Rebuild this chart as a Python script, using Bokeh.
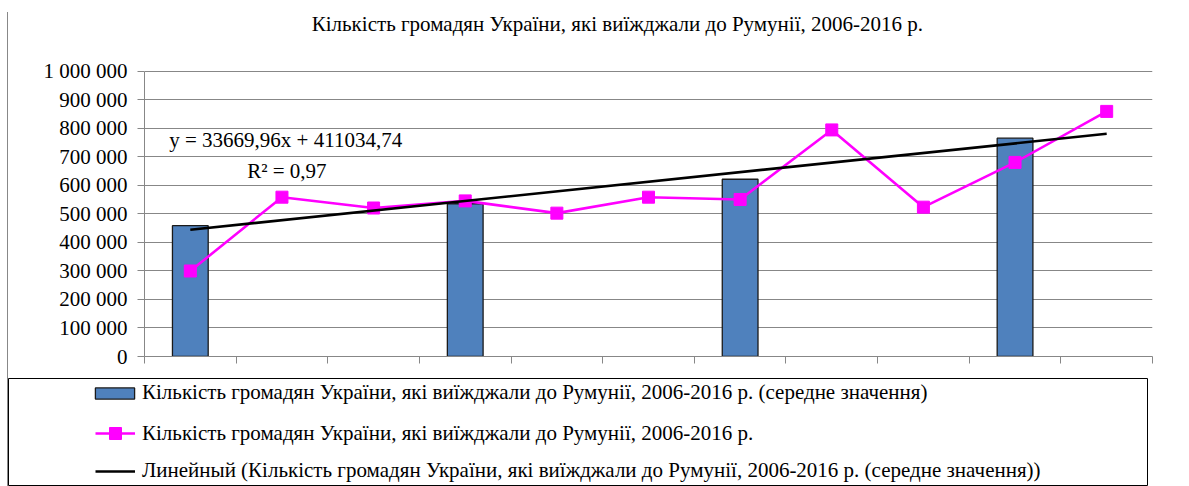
from bokeh.plotting import figure
from bokeh.models import Range1d, FixedTicker, Label, Legend, LegendItem, Spacer
from bokeh.layouts import column, row
from bokeh.embed import file_html
from bokeh.resources import INLINE

# ---------------- data ----------------
years = ["2006", "2007", "2008", "2009", "2010", "2011", "2012", "2013", "2014", "2015", "2016"]
trips = [300000, 559000, 521000, 546000, 503000, 559000, 551000, 795000, 524000, 681000, 860000]
avg_years = ["2006", "2009", "2012", "2015"]
avg_values = [459000, 536000, 622000, 766000]
trend_slope = 33669.96
trend_intercept = 411034.74
trend_eq_text = "y = 33669,96x + 411034,74"
r2_text = "R² = 0,97"
y_ticks = [0, 100000, 200000, 300000, 400000, 500000, 600000, 700000, 800000, 900000, 1000000]
y_tick_labels = ["0", "100 000", "200 000", "300 000", "400 000", "500 000",
                 "600 000", "700 000", "800 000", "900 000", "1 000 000"]
title_text = "Кількість громадян України, які виїжджали до Румунії, 2006-2016 р."
legend_labels = [
    "Кількість громадян України, які виїжджали до Румунії, 2006-2016 р. (середне значення)",
    "Кількість громадян України, які виїжджали до Румунії, 2006-2016 р.",
    "Линейный (Кількість громадян України, які виїжджали до Румунії, 2006-2016 р. (середне значення))",
]

FONT = "Liberation Serif"
FS = "21px"
GRID = "#878787"
BLUE = "#4F81BD"
MAGENTA = "#FF00FF"

idx = list(range(len(years)))
bar_x = [years.index(y) for y in avg_years]
trend_x = [idx[0], idx[-1]]
trend_y = [trend_slope * (i + 1) + trend_intercept for i in trend_x]

# ---------------- chart ----------------
# the frame reaches up to the title; gridlines/axis stop at 1 000 000
p = figure(width=1181, height=366, title=None,
           x_range=Range1d(-0.5, len(years) - 0.5), y_range=Range1d(0, 1207000),
           output_backend="svg", toolbar_location=None,
           min_border_left=136, min_border_right=37, min_border_top=0, min_border_bottom=22)
p.frame_align = False
p.outline_line_color = None
p.background_fill_color = "white"
p.border_fill_color = "white"
p.xgrid.visible = False
p.ygrid.ticker = FixedTicker(ticks=y_ticks)
p.ygrid.grid_line_color = GRID
p.ygrid.grid_line_width = 1

p.yaxis.ticker = FixedTicker(ticks=y_ticks)
p.yaxis.bounds = (y_ticks[0], y_ticks[-1])
p.yaxis.major_label_overrides = {t: l for t, l in zip(y_ticks, y_tick_labels)}
p.yaxis.axis_line_color = GRID
p.yaxis.major_tick_line_color = GRID
p.yaxis.major_tick_out = 7
p.yaxis.major_tick_in = 0
p.yaxis.minor_tick_line_color = None
p.yaxis.major_label_text_font = FONT
p.yaxis.major_label_text_font_size = FS
p.yaxis.major_label_text_color = "black"
p.yaxis.major_label_standoff = 10

p.xaxis.ticker = FixedTicker(ticks=[i - 0.5 for i in range(len(years) + 1)])
p.xaxis.major_label_overrides = {i - 0.5: "" for i in range(len(years) + 1)}
p.xaxis.axis_line_color = GRID
p.xaxis.major_tick_line_color = GRID
p.xaxis.major_tick_out = 7
p.xaxis.major_tick_in = 0
p.xaxis.minor_tick_line_color = None
p.xaxis.major_label_text_font_size = "1px"

p.vbar(x=bar_x, top=avg_values, width=0.39, fill_color=BLUE,
       line_color="#1a1a1a", line_width=1.3)
p.line(idx, trips, line_color=MAGENTA, line_width=2.6)
p.scatter(idx, trips, marker="square", size=12, fill_color=MAGENTA, line_color=MAGENTA)
p.line(trend_x, trend_y, line_color="black", line_width=2.6)

p.add_layout(Label(x=4.66, y=1164900, text=title_text, text_align="center",
                   text_baseline="middle", text_font=FONT, text_font_size=FS,
                   text_color="black"))
p.add_layout(Label(x=-0.23, y=757900, text=trend_eq_text, text_align="left",
                   text_baseline="middle", text_font=FONT, text_font_size=FS,
                   text_color="black"))
p.add_layout(Label(x=0.62, y=652600, text=r2_text, text_align="left",
                   text_baseline="middle", text_font=FONT, text_font_size=FS,
                   text_color="black"))

# ---------------- legend panel ----------------
q = figure(width=1140, height=108, x_range=Range1d(0, 1), y_range=Range1d(0, 1),
           x_axis_type=None, y_axis_type=None, output_backend="svg",
           toolbar_location=None, min_border=0)
q.frame_align = False
q.grid.visible = False
q.outline_line_color = "black"
q.outline_line_width = 1
q.background_fill_color = "white"
q.border_fill_color = "white"

# proxies for the legend (their points lie outside the visible range)
off = [-10]
r_bar = q.vbar(x=off, top=off, width=0.5, fill_color=BLUE, line_color="#1a1a1a", line_width=1.3)
r_line = q.line(x=off, y=off, line_color=MAGENTA, line_width=2.6)
r_mark = q.scatter(x=off, y=off, marker="square", size=12, fill_color=MAGENTA, line_color=MAGENTA)
r_trend = q.line(x=off, y=off, line_color="black", line_width=2.6)


def make_legend(label, renderers, loc, gw, gh, lh, standoff):
    return Legend(items=[LegendItem(label=label, renderers=renderers)],
                  location=loc, orientation="vertical",
                  glyph_width=gw, glyph_height=gh, label_height=lh, label_width=10,
                  label_standoff=standoff, padding=0, margin=0, spacing=0,
                  border_line_color=None, background_fill_alpha=0,
                  label_text_font=FONT, label_text_font_size=FS,
                  label_text_color="black")


q.add_layout(make_legend(legend_labels[0], [r_bar], (82, 81), 49, 14, 22, 3))
q.add_layout(make_legend(legend_labels[1], [r_line, r_mark], (87, 38), 40, 30, 30, 7))
q.add_layout(make_legend(legend_labels[2], [r_trend], (87, 3), 40, 24, 24, 7))

chart = column(p, q, spacing=0, styles={"border-left": "1px solid #888888"})
layout = row(Spacer(width=7, height=10), column(Spacer(width=10, height=12), chart, spacing=0), spacing=0)

open("out.html", "w").write(file_html(layout, INLINE))
